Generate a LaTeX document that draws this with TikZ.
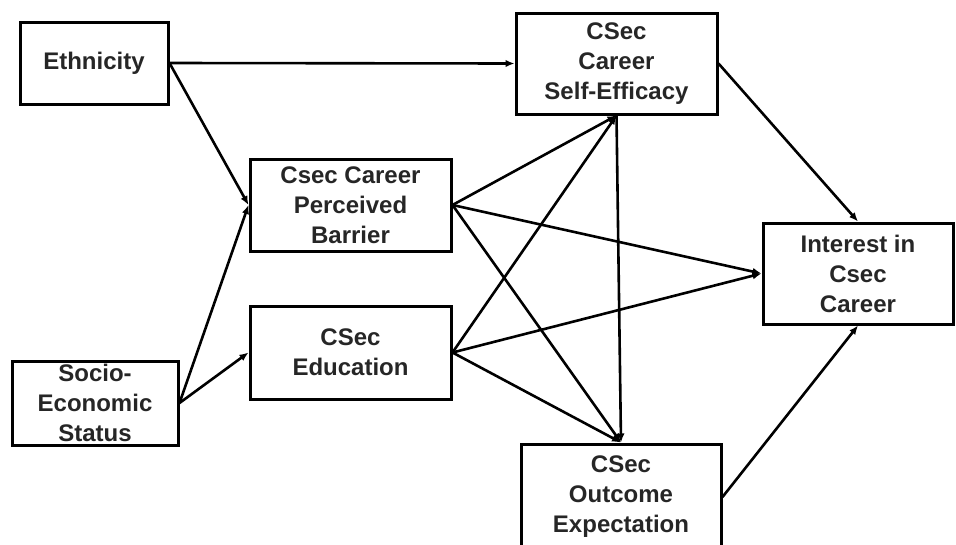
\documentclass[tikz,border=0pt]{standalone}
\usepackage{fontspec}
\setmainfont{Liberation Sans}
\usetikzlibrary{arrows.meta,positioning}
\tikzset{%
	factor/.style = {draw, rectangle, line width=3pt, inner sep=0pt, align=center, text=black!85, font=\bfseries\fontsize{24}{30}\selectfont},
	arrow/.style  = {line width=2.6pt, -{Latex[length=9pt,width=7.5pt]}},
}
\begin{document}
\begin{tikzpicture}[x=1pt,y=-1pt]
	\useasboundingbox (0,0) rectangle (956,544);

	\node[factor, minimum width=148pt, minimum height=82pt]  (ethn) at (94,63)    {Ethnicity};
	\node[factor, minimum width=166pt, minimum height=84pt]  (ses)  at (95,403)   {Socio-\\Economic\\Status};
	\node[factor, minimum width=201pt, minimum height=92pt]  (barr) at (350.5,205) {Csec Career\\Perceived\\Barrier};
	\node[factor, minimum width=201pt, minimum height=93pt]  (edu)  at (350.5,352.5) {CSec\\Education};
	\node[factor, minimum width=201pt, minimum height=101pt] (eff)  at (616.5,63.5) {CSec\\Career\\Self-Efficacy};
	\node[factor, minimum width=200pt, minimum height=106pt] (outc) at (621,497)   {CSec\\Outcome\\Expectation};
	\node[factor, minimum width=190pt, minimum height=101pt] (intr) at (858,273.5) {Interest in\\Csec\\Career};

	\draw[arrow] (ethn.east) -- (eff.west);
	\draw[arrow] (ethn.east) -- (barr.west);
	\draw[arrow] (ses.east) -- (barr.west);
	\draw[arrow] (ses.east) -- (edu.west);

	\foreach \src in {barr,edu} {
		\draw[arrow] (\src.east) -- (eff.south);
		\draw[arrow] (\src.east) -- (intr.west);
		\draw[arrow] (\src.east) -- (outc.north);
	}
	\draw[arrow] (eff.south) -- (outc.north);

	\draw[arrow] (eff.east) -- (intr.north);
	\draw[arrow] (outc.east) -- (intr.south);
\end{tikzpicture}
\end{document}
